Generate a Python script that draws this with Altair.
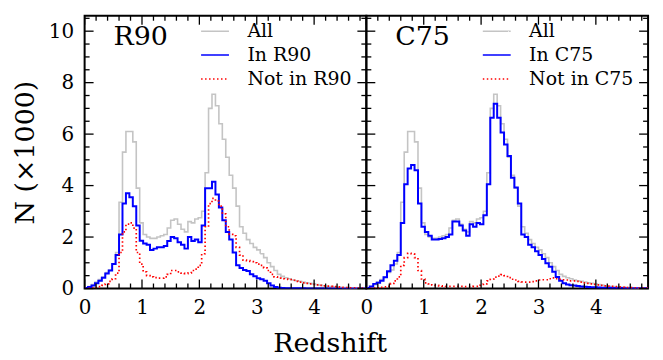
import altair as alt
import pandas as pd

FONT = "DejaVu Serif"
BIN_WIDTH = 0.06

# N (x1000) per redshift bin of width 0.06, starting at z = 0
all_qso = [0.03, 0.08, 0.15, 0.25, 0.35, 0.45, 0.62, 0.72, 0.95, 1.40,
           3.35, 5.30, 6.10, 6.10, 5.70, 3.90, 2.55, 2.10, 2.00, 1.95,
           1.95, 2.00, 2.05, 2.10, 2.35, 2.65, 2.70, 2.50, 2.30, 2.20,
           2.60, 2.55, 2.70, 2.75, 3.00, 4.50, 7.00, 7.55, 7.10, 6.40,
           5.80, 5.10, 4.40, 3.90, 3.20, 2.40, 2.15, 1.90, 1.75, 1.60,
           1.50, 1.35, 1.20, 1.00, 0.85, 0.70, 0.55, 0.47, 0.42, 0.38,
           0.33, 0.30, 0.28, 0.25, 0.22, 0.20, 0.18, 0.15, 0.13, 0.11,
           0.09, 0.08, 0.07, 0.06, 0.05, 0.04, 0.04, 0.03, 0.03, 0.02, 0.02, 0.02]

in_r90 = [0.02, 0.06, 0.12, 0.20, 0.30, 0.42, 0.58, 0.70, 0.95, 1.30,
          2.10, 3.30, 3.70, 3.55, 3.20, 2.45, 1.86, 1.75, 1.70, 1.50,
          1.55, 1.60, 1.60, 1.65, 1.85, 2.00, 1.95, 1.80, 1.70, 1.55,
          2.00, 1.85, 1.90, 1.80, 2.45, 3.90, 3.90, 4.15, 3.65, 3.15,
          2.65, 2.20, 1.90, 1.40, 0.90, 0.80, 0.72, 0.68, 0.55, 0.48,
          0.40, 0.36, 0.30, 0.20, 0.12, 0.06, 0.03, 0.02, 0.01, 0.01,
          0.01, 0.01, 0.01, 0.01, 0.00, 0.00, 0.00, 0.00, 0.00, 0.00,
          0.00, 0.00, 0.00, 0.00, 0.00, 0.00, 0.00, 0.00, 0.00, 0.00, 0.00, 0.00]

not_r90 = [0.00, 0.01, 0.02, 0.04, 0.07, 0.12, 0.18, 0.28, 0.38, 0.60,
           1.40, 2.20, 2.50, 2.55, 2.35, 1.40, 0.95, 0.65, 0.50, 0.45,
           0.42, 0.40, 0.40, 0.45, 0.55, 0.70, 0.70, 0.65, 0.60, 0.58,
           0.60, 0.70, 0.75, 0.90, 1.35, 2.40, 3.30, 3.50, 3.40, 3.20,
           2.90, 2.40, 2.10, 2.05, 1.60, 1.30, 1.10, 1.08, 1.05, 1.00,
           0.95, 0.90, 0.80, 0.70, 0.55, 0.45, 0.40, 0.38, 0.37, 0.35,
           0.32, 0.28, 0.25, 0.22, 0.20, 0.18, 0.16, 0.14, 0.12, 0.10,
           0.09, 0.08, 0.07, 0.06, 0.05, 0.04, 0.04, 0.03, 0.03, 0.02, 0.02, 0.02]

in_c75 = [0.02, 0.08, 0.18, 0.22, 0.30, 0.44, 0.67, 0.90, 1.08, 1.30,
          2.55, 4.05, 4.66, 4.80, 4.60, 3.30, 2.40, 2.20, 2.05, 1.90,
          1.90, 1.92, 1.95, 2.00, 2.10, 2.60, 2.60, 2.45, 2.25, 2.05,
          2.50, 2.40, 2.55, 2.50, 2.85, 4.05, 6.64, 7.18, 6.64, 6.06,
          5.60, 5.15, 4.30, 3.93, 3.30, 2.10, 2.00, 1.70, 1.60, 1.45,
          1.30, 1.15, 0.98, 0.85, 0.65, 0.45, 0.30, 0.20, 0.16, 0.13,
          0.12, 0.10, 0.08, 0.07, 0.06, 0.05, 0.05, 0.04, 0.03, 0.03,
          0.03, 0.02, 0.02, 0.02, 0.02, 0.01, 0.01, 0.01, 0.01, 0.01, 0.01, 0.01]

not_c75 = [0.00, 0.01, 0.02, 0.03, 0.05, 0.06, 0.08, 0.20, 0.30, 0.45,
           0.90, 1.20, 1.37, 1.35, 1.20, 0.70, 0.37, 0.22, 0.18, 0.14,
           0.12, 0.10, 0.09, 0.08, 0.08, 0.08, 0.08, 0.08, 0.07, 0.07,
           0.07, 0.08, 0.08, 0.12, 0.18, 0.30, 0.36, 0.44, 0.48, 0.54,
           0.50, 0.42, 0.36, 0.33, 0.28, 0.26, 0.25, 0.25, 0.27, 0.30,
           0.33, 0.34, 0.34, 0.38, 0.41, 0.38, 0.36, 0.34, 0.33, 0.30,
           0.30, 0.28, 0.25, 0.22, 0.20, 0.18, 0.16, 0.14, 0.12, 0.10,
           0.09, 0.08, 0.07, 0.06, 0.05, 0.04, 0.04, 0.03, 0.03, 0.02, 0.02, 0.02]

x_major = [0, 1, 2, 3, 4]
x_minor = [0.2, 0.4, 0.6, 0.8, 1.2, 1.4, 1.6, 1.8, 2.2, 2.4, 2.6, 2.8,
           3.2, 3.4, 3.6, 3.8, 4.2, 4.4, 4.6, 4.8]
y_major = [0, 2, 4, 6, 8, 10]
y_minor = [0.5, 1, 1.5, 2.5, 3, 3.5, 4.5, 5, 5.5, 6.5, 7, 7.5, 8.5, 9, 9.5, 10.5]

W, H = 283, 274
X_DOMAIN = [0, 4.91]
Y_DOMAIN = [0, 10.6]
MAJ, MIN = 9, 5

xscale = alt.Scale(domain=X_DOMAIN, nice=False, zero=False)
yscale = alt.Scale(domain=Y_DOMAIN, nice=False)


def histogram_frame(names, series):
    rows = []
    for name, vals in zip(names, series):
        pts = vals + [vals[-1]]
        for i, v in enumerate(pts):
            rows.append({"z": round(i * BIN_WIDTH, 2), "n": v, "series": name})
    return pd.DataFrame(rows)


def panel(label, in_vals, not_vals, show_y):
    names = ["All", f"In {label}", f"Not in {label}"]
    df = histogram_frame(names, [all_qso, in_vals, not_vals])

    legend = alt.Legend(
        title=None, orient="none", legendX=121.5, legendY=6,
        symbolType="M-2,0H2", symbolSize=196, symbolStrokeWidth=1.6,
        labelFont=FONT, labelFontSize=19, labelOffset=23, labelColor="black",
        rowPadding=4, padding=0,
    )
    color = alt.Color("series:N", scale=alt.Scale(domain=names, range=["#c4c4c4", "#0000ff", "#ff0000"]),
                      legend=legend)
    dash = alt.StrokeDash("series:N", scale=alt.Scale(domain=names, range=[[1, 0], [1, 0], [1.5, 2.5]]),
                          legend=legend)

    xaxis = alt.Axis(values=x_major, ticks=False, domain=False, grid=False, labelFlush=False,
                     labelFont=FONT, labelFontSize=20, labelColor="black", labelPadding=9, title=None)
    if show_y:
        yaxis = alt.Axis(values=y_major, ticks=False, domain=False, grid=False, labelFlush=False,
                         labelFont=FONT, labelFontSize=20, labelColor="black", labelPadding=11,
                         title="N (×1000)", titleFont=FONT, titleFontSize=27, titleFontWeight="normal",
                         titleColor="black", titlePadding=9)
    else:
        yaxis = None

    base = alt.Chart(df)
    layers = []
    widths = [1.6, 2.0, 1.7]
    for name, sw in zip(names, widths):
        layers.append(
            base.transform_filter(alt.datum.series == name)
            .mark_line(interpolate="step-after", clip=True, strokeWidth=sw)
            .encode(x=alt.X("z:Q", scale=xscale, axis=xaxis),
                    y=alt.Y("n:Q", scale=yscale, axis=yaxis),
                    color=color, strokeDash=dash)
        )

    xt_major = alt.Chart(pd.DataFrame({"v": x_major}))
    xt_minor = alt.Chart(pd.DataFrame({"v": x_minor}))
    yt_major = alt.Chart(pd.DataFrame({"v": y_major}))
    yt_minor = alt.Chart(pd.DataFrame({"v": y_minor}))
    tick_layers = []
    for src, ln in [(xt_major, MAJ), (xt_minor, MIN)]:
        tick_layers.append(src.mark_rule(color="black", strokeWidth=1.3).encode(
            x=alt.X("v:Q", scale=xscale, axis=xaxis), y=alt.value(H), y2=alt.value(H - ln)))
        tick_layers.append(src.mark_rule(color="black", strokeWidth=1.3).encode(
            x=alt.X("v:Q", scale=xscale, axis=xaxis), y=alt.value(0), y2=alt.value(ln)))
    for src, ln in [(yt_major, MAJ), (yt_minor, MIN)]:
        tick_layers.append(src.mark_rule(color="black", strokeWidth=1.3).encode(
            y=alt.Y("v:Q", scale=yscale, axis=yaxis), x=alt.value(0), x2=alt.value(ln)))
        tick_layers.append(src.mark_rule(color="black", strokeWidth=1.3).encode(
            y=alt.Y("v:Q", scale=yscale, axis=yaxis), x=alt.value(W), x2=alt.value(W - ln)))

    tag = alt.Chart(pd.DataFrame({"t": [label]})).mark_text(
        align="left", baseline="alphabetic", font=FONT, fontSize=27, color="black"
    ).encode(x=alt.value(29), y=alt.value(29.5), text="t:N")

    return alt.layer(*layers, *tick_layers, tag).properties(width=W, height=H)


left = panel("R90", in_r90, not_r90, True)
right = panel("C75", in_c75, not_c75, False)

chart = alt.hconcat(left, right, spacing=0, bounds="flush").resolve_scale(
    color="independent", strokeDash="independent"
).properties(
    title=alt.TitleParams("Redshift", orient="bottom", anchor="middle", font=FONT, fontSize=27,
                          fontWeight="normal", color="black", offset=13),
    padding={"left": 10, "top": 13, "right": 13, "bottom": 2},
).configure_view(stroke="black", strokeWidth=2)

chart.save("out.html", embed_options={"renderer": "svg", "actions": False})
